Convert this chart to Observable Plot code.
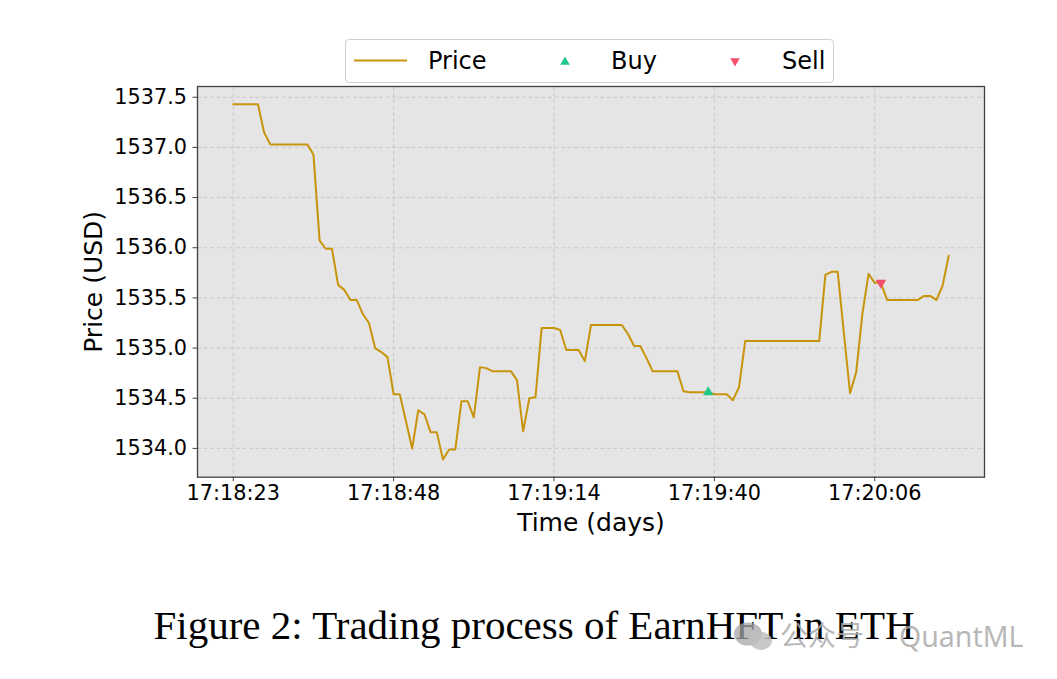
<!DOCTYPE html>
<html>
<head>
<meta charset="utf-8">
<script src="https://cdn.jsdelivr.net/npm/d3@7"></script>
<script src="https://cdn.jsdelivr.net/npm/@observablehq/plot@0.6"></script>
<style>
  html, body { margin: 0; padding: 0; background: #fff; }
  body { width: 1057px; height: 679px; overflow: hidden; font-family: "DejaVu Sans", sans-serif; }
  #legendWrap { position: relative; height: 80px; }
  #legend { position: absolute; left: 345px; top: 39px; width: 489px; height: 44px; border: 1px solid #cfcfcf; border-radius: 4px; background: #fff; box-sizing: border-box; }
  #legend .lbl { position: absolute; top: 5px; font-size: 24px; line-height: 32px; color: #000; }
  #legend svg { position: absolute; left: 0; top: 0; }
  #chart svg { display: block; }
  #captionWrap { position: relative; height: 119px; }
  #caption { position: absolute; left: 0; width: 1057px; top: 45px; text-align: center; font-family: "Liberation Serif", "Times New Roman", serif; font-size: 41px; line-height: 41px; color: #000; }
  #caption span { display: inline-block; margin-left: 11px; }
  .wm { position: absolute; white-space: nowrap; color: rgba(170,170,170,0.85); }
  #wmIcon { position: absolute; left: 733px; top: 62px; }
  #wmCn { left: 780px; top: 56px; font-family: "Noto Sans CJK SC", sans-serif; font-size: 28px; line-height: 36px; }
  #wmEn { left: 899px; top: 57.5px; font-family: "Noto Sans", sans-serif; font-size: 28.5px; line-height: 36px; }
</style>
</head>
<body>
<div id="legendWrap"><div id="legend"></div></div>
<div id="chart"></div>
<div id="captionWrap">
  <div id="caption"><span>Figure 2: Trading process of EarnHFT in ETH</span></div>
  <svg id="wmIcon" width="42" height="30"><ellipse cx="15" cy="12" rx="14" ry="11.5" fill="rgba(165,165,165,0.75)"/><ellipse cx="28" cy="19" rx="11" ry="9" fill="rgba(190,190,190,0.85)"/></svg>
  <div class="wm" id="wmCn">公众号</div>
  <div class="wm" id="wmEn">QuantML</div>
</div>
<script>
// ---- data ----
const prices = [
  1537.43, 1537.43, 1537.43, 1537.43, 1537.43, 1537.15, 1537.03, 1537.03, 1537.03, 1537.03,
  1537.03, 1537.03, 1537.03, 1536.93, 1536.07, 1535.99, 1535.99, 1535.63, 1535.58, 1535.48,
  1535.48, 1535.34, 1535.25, 1535.00, 1534.96, 1534.91, 1534.54, 1534.54, 1534.27, 1534.00,
  1534.38, 1534.34, 1534.16, 1534.16, 1533.89, 1533.99, 1533.99, 1534.47, 1534.47, 1534.31,
  1534.81, 1534.80, 1534.77, 1534.77, 1534.77, 1534.77, 1534.68, 1534.17, 1534.50, 1534.51,
  1535.20, 1535.20, 1535.20, 1535.18, 1534.98, 1534.98, 1534.98, 1534.87, 1535.23, 1535.23,
  1535.23, 1535.23, 1535.23, 1535.23, 1535.14, 1535.02, 1535.02, 1534.90, 1534.77, 1534.77,
  1534.77, 1534.77, 1534.77, 1534.57, 1534.56, 1534.56, 1534.56, 1534.56, 1534.54, 1534.54,
  1534.54, 1534.48, 1534.61, 1535.07, 1535.07, 1535.07, 1535.07, 1535.07, 1535.07, 1535.07,
  1535.07, 1535.07, 1535.07, 1535.07, 1535.07, 1535.07, 1535.73, 1535.76, 1535.76, 1535.15,
  1534.55, 1534.76, 1535.34, 1535.74, 1535.65, 1535.65, 1535.48, 1535.48, 1535.48, 1535.48,
  1535.48, 1535.48, 1535.52, 1535.52, 1535.48, 1535.62, 1535.92
];
const buyIndex = [77];
const sellIndex = [105];
const xTickIndex = [0, 26, 52, 78, 104];
const xTickLabels = ["17:18:23", "17:18:48", "17:19:14", "17:19:40", "17:20:06"];
const yTicks = [1534.0, 1534.5, 1535.0, 1535.5, 1536.0, 1536.5, 1537.0, 1537.5];
const seriesNames = ["Price", "Buy", "Sell"];
const colors = { line: "#c8940c", buy: "#1ec98b", sell: "#f2506b" };

// ---- build tables ----
const priceData = prices.map((p, i) => ({ i, p }));
const buyData = buyIndex.map(i => ({ i, p: prices[i] }));
const sellData = sellIndex.map(i => ({ i, p: prices[i] }));

const n = prices.length - 1;
const pMin = d3.min(prices), pMax = d3.max(prices);
const pad = (pMax - pMin) * 0.05;

const grid = { stroke: "#c9c9c9", strokeOpacity: 1, strokeWidth: 1, strokeDasharray: "4,2.5" };

const chart = Plot.plot({
  width: 1057,
  height: 480,
  marginLeft: 197,
  marginRight: 73,
  marginTop: 6,
  marginBottom: 83.3,
  style: { fontFamily: "DejaVu Sans, sans-serif", fontSize: "20.8px", color: "#000", background: "transparent" },
  x: { domain: [-0.05 * n, n * 1.05] },
  y: { domain: [pMin - pad, pMax + pad] },
  marks: [
    Plot.frame({ fill: "#e5e5e5", stroke: null }),
    Plot.gridX(xTickIndex, grid),
    Plot.gridY(yTicks, grid),
    Plot.line(priceData, { x: "i", y: "p", stroke: colors.line, strokeWidth: 2 }),
    Plot.dot(buyData, { x: "i", y: "p", symbol: "triangle", fill: colors.buy, r: 3.9, stroke: null }),
    Plot.dot(sellData, { x: "i", y: "p", symbol: "triangle", rotate: 180, fill: colors.sell, r: 3.9, stroke: null }),
    Plot.frame({ stroke: "#404040", strokeWidth: 1.3 }),
    Plot.axisX(xTickIndex, { tickSize: 4.5, tickPadding: 4, tickFormat: d => xTickLabels[xTickIndex.indexOf(d)], label: null, stroke: "#404040", fontSize: 20.8 }),
    Plot.axisY(yTicks, { tickSize: 4.5, tickPadding: 6, tickFormat: d => d.toFixed(1), label: null, stroke: "#404040", fontSize: 20.8 }),
    Plot.text(["Time (days)"], { frameAnchor: "bottom", textAnchor: "middle", dy: 54, fontSize: 25, fill: "#000" }),
    Plot.text(["Price (USD)"], { frameAnchor: "left", textAnchor: "middle", rotate: -90, dx: -104, fontSize: 25, fill: "#000" })
  ]
});
document.getElementById("chart").appendChild(chart);

// ---- legend ----
const legend = d3.select("#legend");
const lsvg = legend.append("svg").attr("width", 489).attr("height", 44);
lsvg.append("line").attr("x1", 8).attr("x2", 61).attr("y1", 20.5).attr("y2", 20.5)
  .attr("stroke", colors.line).attr("stroke-width", 2);
const tri = d3.symbol(d3.symbolTriangle, 40);
lsvg.append("path").attr("d", tri()).attr("transform", "translate(219,22)").attr("fill", colors.buy);
lsvg.append("path").attr("d", tri()).attr("transform", "translate(389,21) rotate(180)").attr("fill", colors.sell);
const lblX = [82, 265, 436];
seriesNames.forEach((s, k) => {
  legend.append("div").attr("class", "lbl").style("left", lblX[k] + "px").text(s);
});
</script>
</body>
</html>
